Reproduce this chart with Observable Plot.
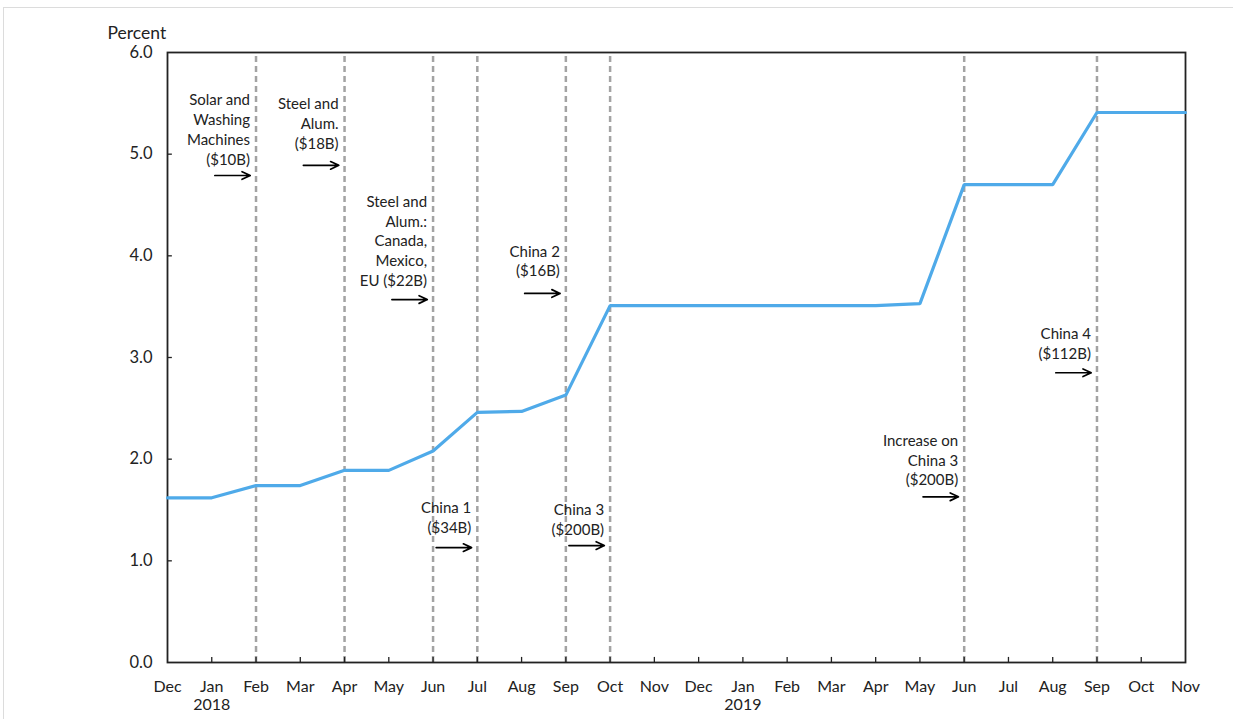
<!DOCTYPE html>
<html>
<head>
<meta charset="utf-8">
<script src="https://cdn.jsdelivr.net/npm/d3@7"></script>
<script src="https://cdn.jsdelivr.net/npm/@observablehq/plot@0.6"></script>
<style>
  html, body { margin: 0; padding: 0; background: #fff; }
  #wrap { position: relative; width: 1233px; height: 719px; overflow: hidden; }
  #border { position: absolute; left: 3px; top: 7px; right: 0; bottom: 0; border-top: 1.5px solid #dcdcdc; border-left: 1.5px solid #dcdcdc; pointer-events: none; }
  #chart { position: absolute; left: 0; top: 0; }
</style>
</head>
<body>
<div id="wrap"><div id="chart"></div><div id="border"></div></div>
<script>
// Month tick labels (Dec 2017 .. Nov 2019), equally spaced
const months = ["Dec","Jan","Feb","Mar","Apr","May","Jun","Jul","Aug","Sep","Oct","Nov",
                "Dec","Jan","Feb","Mar","Apr","May","Jun","Jul","Aug","Sep","Oct","Nov"];
const years = [{i: 1, label: "2018"}, {i: 13, label: "2019"}];

// Average tariff rate (percent) per month
const rate = [1.62, 1.62, 1.74, 1.74, 1.89, 1.89, 2.08, 2.46, 2.47, 2.63, 3.51, 3.51,
              3.51, 3.51, 3.51, 3.51, 3.51, 3.53, 4.70, 4.70, 4.70, 5.41, 5.41, 5.41];

// Tariff action dates (month index) marked with dashed lines
const events = [2, 4, 6, 7, 9, 10, 18, 21];

// Annotations: month index of the event, label, top of text (percent), arrow level (percent)
const notes = [
  {i: 2,  text: "Solar and\nWashing\nMachines\n($10B)", top: 5.62, arrow: 4.79},
  {i: 4,  text: "Steel and\nAlum.\n($18B)", top: 5.58, arrow: 4.89},
  {i: 6,  text: "Steel and\nAlum.:\nCanada,\nMexico,\nEU ($22B)", top: 4.62, arrow: 3.57},
  {i: 9,  text: "China 2\n($16B)", top: 4.13, arrow: 3.63},
  {i: 7,  text: "China 1\n($34B)", top: 1.61, arrow: 1.13},
  {i: 10, text: "China 3\n($200B)", top: 1.59, arrow: 1.15},
  {i: 18, text: "Increase on\nChina 3\n($200B)", top: 2.27, arrow: 1.63},
  {i: 21, text: "China 4\n($112B)", top: 3.32, arrow: 2.85}
];

const yTicks = [0, 1, 2, 3, 4, 5, 6];

const series = rate.map((v, i) => ({i, v}));
const font = "Lato, 'Open Sans', sans-serif";

const chart = Plot.plot({
  width: 1233,
  height: 719,
  marginLeft: 167,
  marginRight: 48,
  marginTop: 52,
  marginBottom: 57,
  style: {fontFamily: font, fontSize: "15px", color: "#222", background: "transparent"},
  x: {type: "linear", domain: [0, 23], label: null, axis: null},
  y: {domain: [0, 6], label: null, axis: null},
  marks: [
    Plot.axisX(d3.range(0, 24), {tickFormat: i => months[i], tickSize: 0, tickPadding: 18, fontSize: 16, fill: "#222"}),
    Plot.axisY(yTicks, {tickFormat: d3.format(".1f"), tickSize: 0, tickPadding: 15, fontSize: 16.5, fill: "#222"}),
    // event dashed lines
    Plot.ruleX(events, {x: d => d, y1: 0, y2: 6, stroke: "#a3a3a3", strokeWidth: 2.5, strokeDasharray: "6,4"}),
    // inward tick marks
    Plot.ruleX(d3.range(1, 23), {x: d => d, y1: 0, y2: 0.05, stroke: "#222", strokeWidth: 1.3}),
    Plot.ruleY(yTicks.slice(1, 6), {y: d => d, x1: 0, x2: 0.11, stroke: "#222", strokeWidth: 1.3}),
    // frame
    Plot.frame({stroke: "#222", strokeWidth: 1.8}),
    // data line
    Plot.line(series, {x: "i", y: "v", stroke: "#4faae9", strokeWidth: 3.2, strokeLinejoin: "miter"}),
    // annotations
    Plot.text(notes, {x: "i", y: "top", text: "text", textAnchor: "end", lineAnchor: "top", dx: -6, lineHeight: 1.32, fontSize: 15, fill: "#222"}),
    Plot.arrow(notes, {x1: d => d.i - 0.93, x2: d => d.i - 0.13, y1: "arrow", y2: "arrow", stroke: "#000", strokeWidth: 1.7, headLength: 8, headAngle: 50}),
    // year labels under Jan
    Plot.text(years, {x: "i", y: () => 0, text: "label", dy: 42, fontSize: 16, fill: "#222"}),
    // axis title
    Plot.text(["Percent"], {frameAnchor: "top-left", dx: -60, dy: -19, textAnchor: "start", lineAnchor: "middle", fontSize: 17.5, fill: "#222"})
  ]
});
document.getElementById("chart").appendChild(chart);
</script>
</body>
</html>
